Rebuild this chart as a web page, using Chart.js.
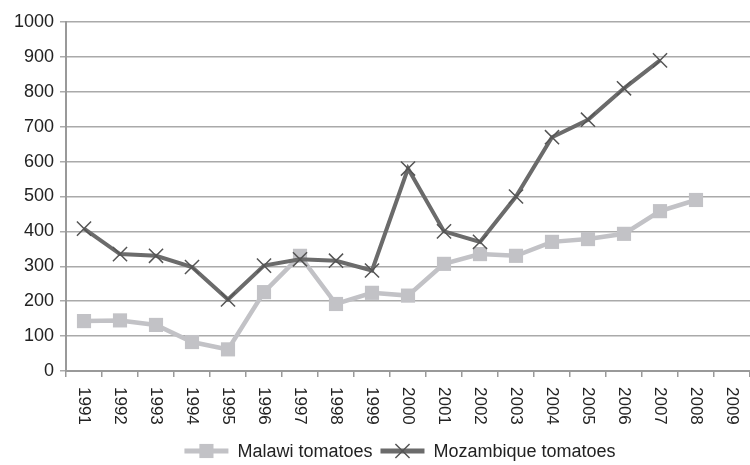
<!DOCTYPE html>
<html lang="en">
<head>
  <meta charset="UTF-8" />
  <title>Tomatoes: Malawi and Mozambique</title>
  <script src="https://cdn.jsdelivr.net/npm/chart.js"></script>
  <style>
    body {
      margin: 0;
      background: #ffffff;
    }

    .wrap {
      width: 750px;
      height: 465px;
    }
  </style>
</head>
<body>
  <div class="wrap">
    <canvas id="tomatoChart" width="750" height="465"></canvas>
  </div>

  <script>
    // Data
    const years = ['1991', '1992', '1993', '1994', '1995', '1996', '1997', '1998', '1999', '2000',
                   '2001', '2002', '2003', '2004', '2005', '2006', '2007', '2008', '2009'];
    const malawi = [143, 145, 132, 83, 62, 226, 330, 192, 224, 216,
                    307, 335, 330, 370, 378, 393, 458, 490, null];
    const mozambique = [408, 335, 330, 298, 205, 302, 320, 316, 288, 580,
                        400, 370, 500, 670, 720, 810, 890, null, null];
    const yTicks = [0, 100, 200, 300, 400, 500, 600, 700, 800, 900, 1000];

    const FONT = '"Liberation Sans", Arial, sans-serif';

    // Rotated year labels (reading top to bottom) and the line+marker legend
    const extras = {
      id: 'extras',
      afterDraw(chart) {
        const ctx = chart.ctx;
        const xs = chart.scales.x;

        ctx.save();
        ctx.fillStyle = '#222';
        ctx.font = '17px ' + FONT;
        ctx.textAlign = 'left';
        ctx.textBaseline = 'middle';
        xs.ticks.forEach((t, i) => {
          const x = xs.getPixelForTick(i);
          ctx.save();
          ctx.translate(x, xs.top + 16);
          ctx.rotate(Math.PI / 2);
          ctx.fillText(xs.getLabelForValue(t.value), 0, 0);
          ctx.restore();
        });

        // legend
        ctx.font = '18px ' + FONT;
        const lineLen = 44, gap = 9, itemGap = 8;
        const items = chart.data.datasets.map(ds => ({
          ds: ds,
          w: lineLen + gap + ctx.measureText(ds.label).width
        }));
        const total = items.reduce((s, it) => s + it.w, 0) + itemGap * (items.length - 1);
        let x = 400 - total / 2;
        const y = 451;
        items.forEach(it => {
          const ds = it.ds;
          const cx = x + lineLen / 2;
          ctx.strokeStyle = ds.borderColor;
          ctx.lineWidth = 5;
          ctx.beginPath();
          ctx.moveTo(x, y);
          ctx.lineTo(x + lineLen, y);
          ctx.stroke();
          ctx.fillStyle = ds.pointBackgroundColor;
          ctx.strokeStyle = ds.pointBorderColor;
          ctx.lineWidth = ds.pointBorderWidth;
          ctx.beginPath();
          if (ds.pointStyle === 'rect') {
            const h = ds.pointRadius * Math.SQRT1_2;
            ctx.rect(cx - h, y - h, 2 * h, 2 * h);
            ctx.fill();
          } else {
            const a = ds.pointRadius * Math.SQRT1_2;
            ctx.moveTo(cx - a, y - a); ctx.lineTo(cx + a, y + a);
            ctx.moveTo(cx - a, y + a); ctx.lineTo(cx + a, y - a);
            ctx.stroke();
          }
          ctx.fillStyle = '#222';
          ctx.fillText(ds.label, x + lineLen + gap, y + 1);
          x += it.w + itemGap;
        });
        ctx.restore();
      }
    };

    const ctx = document.getElementById('tomatoChart').getContext('2d');
    new Chart(ctx, {
      type: 'line',
      data: {
        labels: years,
        datasets: [{
          label: 'Malawi tomatoes',
          data: malawi,
          order: 1,
          borderColor: '#c2c2c6',
          backgroundColor: '#c2c2c6',
          borderWidth: 4.5,
          pointStyle: 'rect',
          pointRadius: 10,
          pointHoverRadius: 10,
          pointBackgroundColor: '#c2c2c6',
          pointBorderColor: '#c2c2c6',
          pointBorderWidth: 0,
          tension: 0
        }, {
          label: 'Mozambique tomatoes',
          data: mozambique,
          order: 0,
          borderColor: '#6b6b6b',
          backgroundColor: '#6b6b6b',
          borderWidth: 4,
          pointStyle: 'crossRot',
          pointRadius: 10,
          pointHoverRadius: 10,
          pointBackgroundColor: '#6b6b6b',
          pointBorderColor: '#555',
          pointBorderWidth: 1.5,
          tension: 0
        }]
      },
      options: {
        responsive: false,
        animation: false,
        devicePixelRatio: 1,
        layout: { autoPadding: false, padding: { top: 22, right: 0, left: 0, bottom: 0 } },
        plugins: {
          legend: { display: false },
          tooltip: { enabled: false }
        },
        scales: {
          x: {
            offset: true,
            grid: {
              offset: true,
              drawOnChartArea: false,
              drawTicks: true,
              tickLength: 6,
              color: '#999',
              lineWidth: 1.5
            },
            border: { color: '#999', width: 2 },
            ticks: { display: false, autoSkip: false },
            afterFit(scale) { scale.height = 94; }
          },
          y: {
            min: 0,
            max: 1000,
            afterBuildTicks(scale) { scale.ticks = yTicks.map(v => ({ value: v })); },
            grid: {
              color: '#aaa',
              lineWidth: 1.5,
              drawTicks: true,
              tickLength: 6
            },
            border: { color: '#999', width: 2 },
            ticks: {
              color: '#222',
              font: { size: 18, family: FONT },
              padding: 6,
              callback: v => String(v)
            },
            afterFit(scale) { scale.width = 66; }
          }
        }
      },
      plugins: [extras]
    });
  </script>
</body>
</html>
